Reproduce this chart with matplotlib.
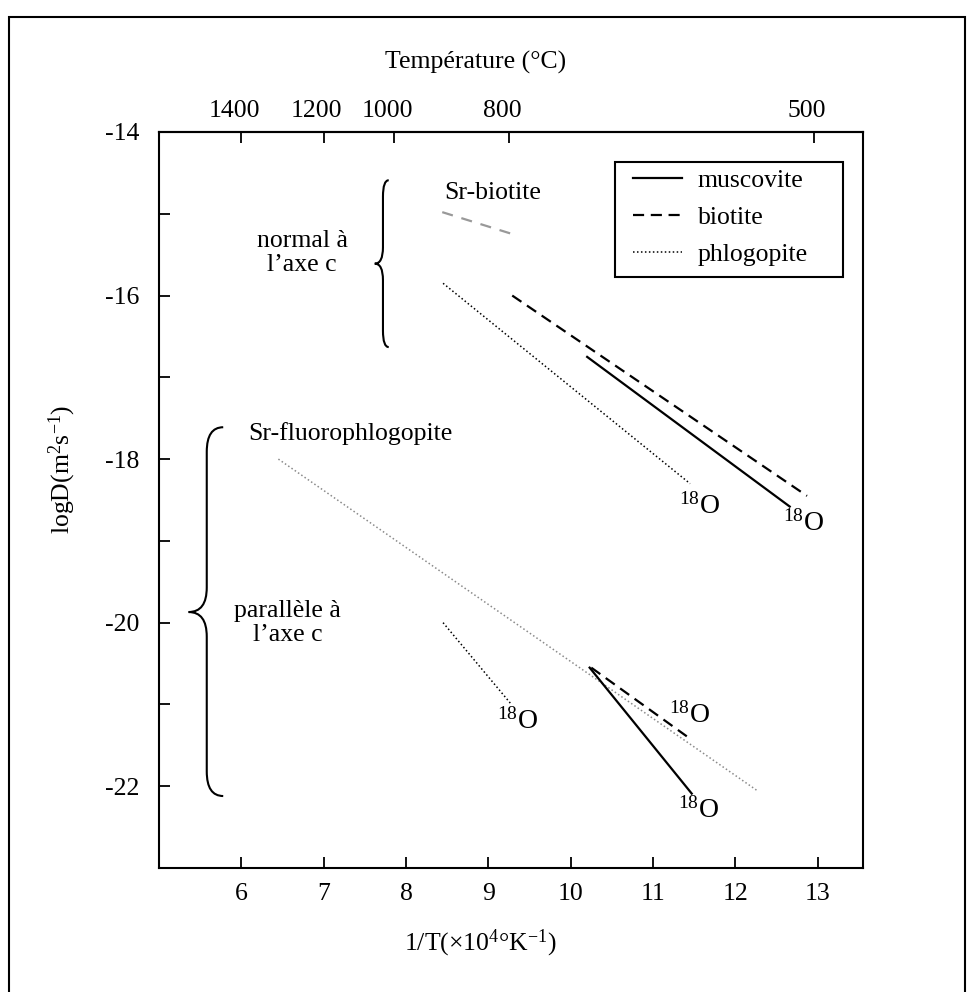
import matplotlib
matplotlib.use("Agg")
import matplotlib.pyplot as plt
import matplotlib.transforms as mtransforms
from matplotlib.path import Path
from matplotlib.patches import PathPatch, Rectangle

plt.rcParams["font.family"] = ["Liberation Serif", "DejaVu Serif"]
plt.rcParams["mathtext.fontset"] = "custom"
plt.rcParams["mathtext.rm"] = "Liberation Serif"
plt.rcParams["mathtext.it"] = "Liberation Serif:italic"
plt.rcParams["axes.unicode_minus"] = False

# ----- Data (1/T x 1e4, logD) -----
musc_n_x = [10.2, 12.66]
musc_n_y = [-16.75, -18.58]
bio_n_x = [9.29, 12.87]
bio_n_y = [-16.0, -18.45]
phl_n_x = [8.45, 11.45]
phl_n_y = [-15.85, -18.3]
srbio_x = [8.44, 9.33]
srbio_y = [-14.98, -15.26]

srfphl_x = [6.45, 12.26]
srfphl_y = [-18.0, -22.05]
musc_p_x = [10.23, 11.47]
musc_p_y = [-20.55, -22.09]
bio_p_x = [10.25, 11.41]
bio_p_y = [-20.55, -21.39]
phl_p_x = [8.45, 9.28]
phl_p_y = [-20.0, -21.0]

# ----- Ticks -----
x_ticks = [6, 7, 8, 9, 10, 11, 12, 13]
y_ticks = [-22, -20, -18, -16, -14]
y_labels = ["-22", "-20", "-18", "-16", "-14"]
y_minor = [-23, -21, -19, -17, -15]
temp_pos = [6.0, 7.0, 7.86, 9.25, 12.95]
temp_labels = ["1400", "1200", "1000", "800", "500"]

# 18O labels (x, y)
o18_x = [11.57, 12.83, 9.35, 11.45, 11.55]
o18_y = [-18.58, -18.79, -21.21, -21.13, -22.29]

# braces: (x_end, x_mid, x_tip, y_top, y_bot, y_tip, r)
brace_normal = (7.79, 7.72, 7.62, -14.59, -16.63, -15.61, 0.2)
brace_para = (5.78, 5.58, 5.36, -17.61, -22.12, -19.87, 0.3)

fs = 18.5

fig = plt.figure(figsize=(9.76, 9.92), dpi=100)
ax = fig.add_axes([159 / 976, 1 - 868 / 992, 704 / 976, 736 / 992])

# outer frame
fig.patches.append(Rectangle((9 / 976, -0.02), 956 / 976, 1.02 - 17 / 992,
                             transform=fig.transFigure, fill=False,
                             edgecolor="black", linewidth=1.5))

dot = (0, (1, 1.6))

# normal to c axis
ax.plot(musc_n_x, musc_n_y, color="black", lw=1.6, label="muscovite")
ax.plot(bio_n_x, bio_n_y, color="black", lw=1.6, dashes=(5, 3), label="biotite")
ax.plot(phl_n_x, phl_n_y, color="black", lw=1.1, linestyle=dot, label="phlogopite")
ax.plot(srbio_x, srbio_y, color="#999999", lw=1.6, dashes=(5, 4))

# parallel to c axis
ax.plot(srfphl_x, srfphl_y, color="#8a8a8a", lw=1.1, linestyle=dot)
ax.plot(musc_p_x, musc_p_y, color="black", lw=1.6)
ax.plot(bio_p_x, bio_p_y, color="black", lw=1.6, dashes=(5, 3))
ax.plot(phl_p_x, phl_p_y, color="black", lw=1.1, linestyle=dot)

for ox, oy in zip(o18_x, o18_y):
    ax.text(ox, oy, "$^{18}$O", fontsize=20, ha="center", va="center")

ax.text(9.05, -14.74, "Sr-biotite", fontsize=fs, ha="center", va="center")
ax.text(6.74, -15.48, "normal à\nl’axe c", fontsize=fs, ha="center",
        va="center", multialignment="center", linespacing=1.1)
ax.text(6.08, -17.69, "Sr-fluorophlogopite", fontsize=fs, ha="left", va="center")
ax.text(6.56, -20.0, "parallèle à\nl’axe c", fontsize=fs, ha="center",
        va="center", multialignment="center", linespacing=1.1)


def draw_brace(ax, b):
    xe, xm, xt, yt, yb, yc, r = b
    verts = [(xe, yt), (xm, yt), (xm, yt - r),
             (xm, yc + r), (xm, yc), (xt, yc),
             (xm, yc), (xm, yc - r),
             (xm, yb + r), (xm, yb), (xe, yb)]
    codes = [Path.MOVETO, Path.CURVE3, Path.CURVE3,
             Path.LINETO, Path.CURVE3, Path.CURVE3,
             Path.CURVE3, Path.CURVE3,
             Path.LINETO, Path.CURVE3, Path.CURVE3]
    ax.add_patch(PathPatch(Path(verts, codes), fill=False, lw=1.5,
                           edgecolor="black", clip_on=False))


draw_brace(ax, brace_normal)
draw_brace(ax, brace_para)

ax.set_xlim(5.0, 13.55)
ax.set_ylim(-23, -14)
ax.set_xticks(x_ticks)
ax.set_yticks(y_ticks, labels=y_labels)
ax.set_yticks(y_minor, minor=True)
ax.tick_params(axis="both", which="both", direction="in", length=8, width=1.3,
               labelsize=fs, top=False, right=False)
ax.tick_params(axis="y", pad=14)
ax.tick_params(axis="x", pad=11)
for s in ax.spines.values():
    s.set_linewidth(1.5)

secax = ax.secondary_xaxis("top")
secax.set_xticks(temp_pos, labels=temp_labels)
secax.tick_params(direction="in", length=8, width=1.3, labelsize=fs, pad=7)
secax.spines["top"].set_linewidth(1.5)
shift = mtransforms.ScaledTranslation(-7 / 100, 0, fig.dpi_scale_trans)
for lab in secax.get_xticklabels():
    lab.set_transform(lab.get_transform() + shift)

ax.set_ylabel("logD(m$^2$s$^{-1}$)", fontsize=fs, va="center")
ax.yaxis.set_label_coords(-0.138, 0.541)
ax.set_xlabel("1/T(×10$^4$°K$^{-1}$)", fontsize=fs, va="center")
ax.xaxis.set_label_coords(0.457, -0.102)
ax.text(0.449, 1.095, "Température (°C)", transform=ax.transAxes,
        fontsize=fs, ha="center", va="center")

# legend: entries without own frame, box drawn separately (wide right margin)
leg = ax.legend(loc="upper left", bbox_to_anchor=(0.673, 0.950),
                borderaxespad=0, borderpad=0, fontsize=fs, frameon=False,
                handlelength=1.9, handletextpad=0.62, labelspacing=0.55)
ax.add_patch(Rectangle((0.6477, 0.803), 0.3239, 0.1562, transform=ax.transAxes,
                       fill=False, edgecolor="black", lw=1.5, zorder=5))

fig.savefig("out.png", dpi=100)
